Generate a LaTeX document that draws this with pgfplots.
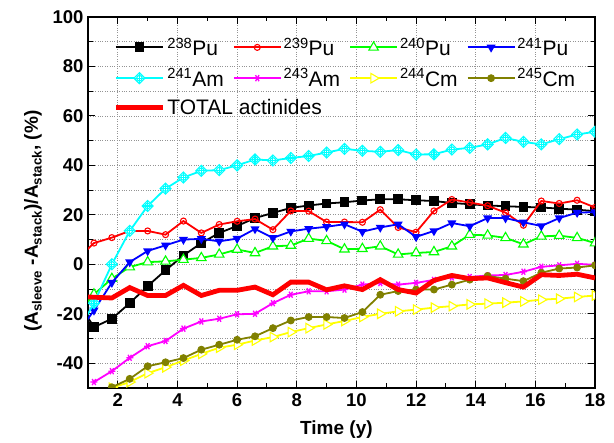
\documentclass[border=0pt]{standalone}
\usepackage{fontspec}
\setmainfont{Liberation Sans}
\usepackage{pgfplots}
\usepackage{pgfplotstable}
\pgfplotsset{compat=1.18}
\definecolor{olivec}{RGB}{128,128,0}
\definecolor{cyanc}{RGB}{0,255,255}
\definecolor{magc}{RGB}{255,0,255}
\definecolor{yelc}{RGB}{255,255,0}
\definecolor{grc}{RGB}{0,255,0}
\definecolor{blc}{RGB}{0,0,255}
\definecolor{rdc}{RGB}{255,0,0}
\pgfdeclareplotmark{diamondplus}{%
  \pgfpathmoveto{\pgfqpoint{0pt}{\pgfplotmarksize}}%
  \pgfpathlineto{\pgfqpoint{\pgfplotmarksize}{0pt}}%
  \pgfpathlineto{\pgfqpoint{0pt}{-\pgfplotmarksize}}%
  \pgfpathlineto{\pgfqpoint{-\pgfplotmarksize}{0pt}}%
  \pgfpathclose
  \pgfusepathqfillstroke
  \pgfpathmoveto{\pgfqpoint{0pt}{\pgfplotmarksize}}%
  \pgfpathlineto{\pgfqpoint{0pt}{-\pgfplotmarksize}}%
  \pgfpathmoveto{\pgfqpoint{\pgfplotmarksize}{0pt}}%
  \pgfpathlineto{\pgfqpoint{-\pgfplotmarksize}{0pt}}%
  \pgfusepathqstroke
  \pgfpathcircle{\pgfpointorigin}{0.5\pgfplotmarksize}%
  \pgfusepathqstroke
}
\pgfplotstableread{
x    pua    pub   puc    pud    ama    amb    cma    cmb    tot
0.6  -14.0  1.7   -20.8  -28.8  -28.6  nan    nan    nan    -13.0
1.2  -25.4  8.6   -12.1  -18.6  -15.7  -47.6  nan    nan    -13.3
1.8  -22.0  10.8  -5.8   -7.4   0.0    -43.2  -49.9  -49.7  -13.6
2.4  -15.7  13.5  -1.1   0.9    13.5   -37.8  -47.6  -46.3  -9.4
3.0  -8.8   13.5  0.9    5.4    23.6   -33.1  -44.0  -41.2  -12.6
3.6  -2.4   12.0  1.2    7.7    30.6   -31.0  -41.6  -39.6  -12.6
4.2  3.6    17.5  1.9    10.0   35.1   -26.0  -38.9  -37.9  -8.5
4.8  8.6    12.7  2.6    10.3   37.8   -23.1  -36.2  -34.5  -12.6
5.4  12.7   16.1  4.0    9.3    38.1   -22.0  -33.7  -32.5  -10.5
6.0  15.5   17.4  6.0    10.4   40.0   -20.2  -32.5  -30.5  -10.5
6.6  18.7   18.3  4.6    14.3   42.4   -20.0  -30.8  -29.1  -9.2
7.2  20.8   14.0  7.3    10.7   42.0   -15.7  -29.4  -25.8  -12.3
7.8  22.8   21.6  7.6    13.3   43.0   -12.3  -27.4  -22.7  -7.2
8.4  23.8   21.5  10.4   14.4   43.8   -10.9  -25.8  -21.3  -7.2
9.0  24.6   17.1  9.5    15.2   45.2   -10.9  -24.3  -21.3  -10.3
9.6  25.1   17.1  6.1    16.2   46.7   -10.2  -22.9  -21.7  -8.7
10.2 25.8   17.0  6.3    13.2   45.9   -8.2   -21.3  -19.3  -10.2
10.8 26.3   22.1  7.3    14.9   45.5   -7.6   -20.0  -12.3  -6.2
11.4 26.3   14.9  4.0    16.2   46.2   -8.2   -19.0  -10.8  -10.2
12.0 25.9   13.0  4.6    11.1   44.4   -7.5   -18.3  -10.2  -11.6
12.6 25.6   21.6  5.0    13.5   44.5   -6.3   -17.5  -10.2  -6.5
13.2 24.8   26.2  7.3    16.7   46.4   -5.3   -16.9  -8.2   -4.5
13.8 24.3   25.0  12.0   15.4   47.1   -5.1   -16.2  -6.2   -5.8
14.4 23.8   23.7  11.7   18.7   48.5   -4.5   -15.9  -4.7   -5.5
15.0 23.5   20.9  10.7   18.7   51.1   -4.3   -15.5  -5.8   -7.4
15.6 23.2   15.8  8.1    17.0   49.5   -3.0   -15.0  -6.8   -9.2
16.2 23.0   25.6  11.3   15.5   48.5   -1.0   -14.3  -3.4   -4.2
16.8 22.5   24.6  11.6   18.7   50.6   -0.4   -13.9  -1.7   -4.5
17.4 22.1   25.9  10.7   20.9   52.5   0.2    -13.2  -1.3   -4.0
18.0 21.5   23.0  8.6    21.1   53.6   -0.2   -12.6  -0.4   -5.5
}\data
\begin{document}
\begin{tikzpicture}
\begin{axis}[
  width=507pt, height=371pt, scale only axis,
  xmin=1, xmax=18, ymin=-50, ymax=100,
  xtick={2,4,...,18}, ytick={-40,-20,...,100},
  minor x tick num=1, minor y tick num=1,
  tick align=inside,
  major tick length=7pt, minor tick length=4.5pt,
  every tick/.append style={black, line width=1.1pt},
  axis line style={line width=1.4pt},
  xmajorgrids, ymajorgrids, yminorgrids,
  major grid style={dotted, gray!85, line width=0.8pt},
  minor grid style={dotted, gray!85, line width=0.8pt},
  /pgf/number format/assume math mode=true,
  ticklabel style={font=\bfseries\fontsize{18.5}{20}\selectfont},
  xticklabel style={yshift=-2pt},
  yticklabel style={xshift=-1pt},
  xlabel={Time (y)},
  ylabel={(A\textsubscript{sleeve} -A\textsubscript{stack})/A\textsubscript{stack}, (\%)},
  label style={font=\bfseries\fontsize{19}{22}\selectfont},
  xlabel style={at={(axis description cs:0.49,-0.113)}, anchor=center},
  ylabel style={at={(axis description cs:-0.1085,0.45)}, anchor=center},
  clip marker paths=true,
  legend columns=4, legend cell align=left,
  legend style={at={(axis description cs:0.050,0.950)}, anchor=north west,
    draw=none, fill=none, inner sep=0pt, row sep=7.5pt,
    font=\fontsize{21}{24}\selectfont,
    /tikz/every even column/.append style={column sep=7pt}},
  legend image code/.code={%
    \draw[mark repeat=2, mark phase=2] plot coordinates {(0pt,0pt) (23.5pt,0pt) (47pt,0pt)};},
]
\addplot[black, line width=1.8pt, mark=square*, mark size=4pt, mark options={solid, fill=black}] table[x=x, y=pua] {\data};
\addlegendentry{\textsuperscript{238}Pu}
\addplot[rdc, line width=1.8pt, mark=o, mark size=3pt, mark options={solid, fill=white, line width=1.1pt}] table[x=x, y=pub] {\data};
\addlegendentry{\textsuperscript{239}Pu}
\addplot[grc, line width=1.8pt, mark=triangle*, mark size=5.5pt, mark options={solid, fill=white, line width=1.1pt}] table[x=x, y=puc] {\data};
\addlegendentry{\textsuperscript{240}Pu}
\addplot[blc, line width=1.8pt, mark=triangle*, mark size=3.5pt, mark options={solid, fill=blc, rotate=180}] table[x=x, y=pud] {\data};
\addlegendentry{\textsuperscript{241}Pu}
\addplot[cyanc, line width=1.8pt, mark=diamondplus, mark size=5.5pt, mark options={solid, fill=white, line width=1.1pt}] table[x=x, y=ama] {\data};
\addlegendentry{\textsuperscript{241}Am}
\addplot[magc, line width=1.8pt, mark=asterisk, mark size=3.5pt, mark options={solid, rotate=90, line width=1.3pt}] table[x=x, y=amb] {\data};
\addlegendentry{\textsuperscript{243}Am}
\addplot[yelc, line width=1.8pt, mark=triangle*, mark size=5.5pt, mark options={solid, fill=white, rotate=-90, line width=1.1pt}] table[x=x, y=cma] {\data};
\addlegendentry{\textsuperscript{244}Cm}
\addplot[olivec, line width=1.8pt, mark=oplus*, mark size=3.5pt, mark options={solid, fill=olivec, line width=0.8pt}] table[x=x, y=cmb] {\data};
\addlegendentry{\textsuperscript{245}Cm}
\addplot[rdc, line width=4.8pt, no marks] table[x=x, y=tot] {\data};
\addlegendentry{\makebox[0pt][l]{TOTAL actinides}}
\end{axis}
\pgfresetboundingbox
\path[use as bounding box] ([shift={(-88pt,-55pt)}]current axis.south west) rectangle ([shift={(19pt,17pt)}]current axis.north east);
\end{tikzpicture}
\end{document}
